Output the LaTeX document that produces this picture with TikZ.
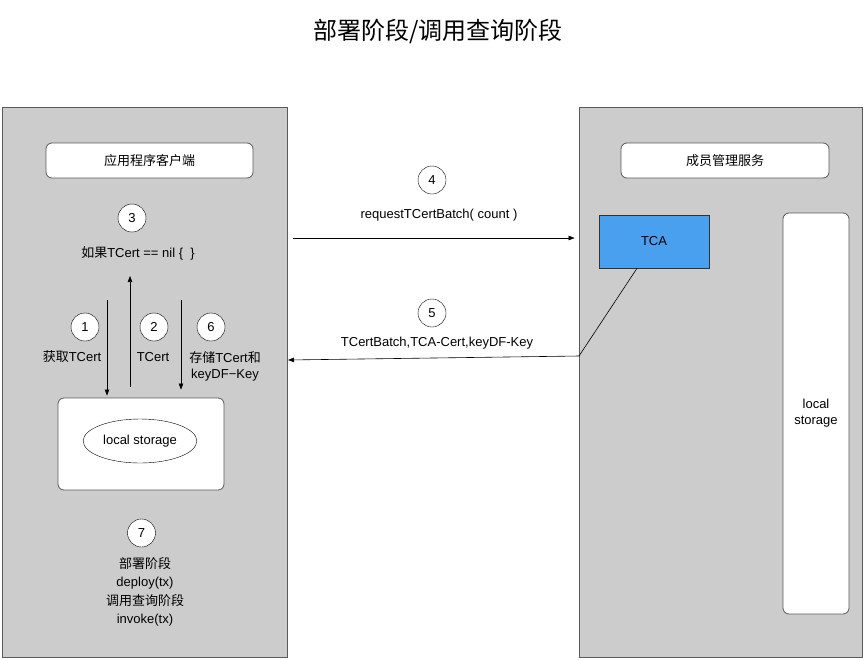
\documentclass[tikz,border=0pt]{standalone}
\usepackage{fontspec}
\setmainfont{Liberation Sans}
\newfontfamily\cjk{Noto Sans CJK SC}
\usetikzlibrary{arrows.meta,shapes.geometric}
\definecolor{panelgray}{RGB}{204,204,204}
\definecolor{linegray}{RGB}{90,90,90}
\definecolor{tcablue}{RGB}{73,160,239}
\tikzset{
  panel/.style={draw=linegray,fill=panelgray,line width=0.8pt,inner sep=0pt},
  whitebox/.style={draw=linegray,fill=white,rounded corners=6pt,line width=0.8pt},
  stepnum/.style={circle,draw,fill=white,minimum size=28pt,inner sep=0pt},
  flow/.style={-{Triangle[length=6pt,width=4.5pt]},line width=0.6pt},
}
\begin{document}
\begin{tikzpicture}[x=1pt,y=-1pt,font=\fontsize{13}{16}\selectfont]
  \useasboundingbox (0,0) rectangle (865,659);
  \node[font=\cjk\fontsize{24}{27}\selectfont] (title) at (438,31) {部署阶段/调用查询阶段};
  % two sides
  \node[panel,minimum width=285pt,minimum height=550pt] (client) at (144.5,382) {};
  \node[panel,minimum width=283pt,minimum height=550pt] (member) at (720.5,382) {};
  % client side
  \node[whitebox,minimum width=207pt,minimum height=35pt] (app) at (149.5,160.5) {\cjk 应用程序客户端};
  \node[stepnum] (s3) at (132,218) {3};
  \node (cond) at (138,253) {{\cjk 如果}TCert == nil \{\ \ \}};
  \node[stepnum] (s1) at (85,327) {1};
  \node[stepnum] (s2) at (154,327) {2};
  \node[stepnum] (s6) at (211,327) {6};
  \node (l1) at (72,357) {{\cjk 获取}TCert};
  \node (l2) at (153,357) {TCert};
  \node[align=center] (l6) at (225,366.5) {{\cjk 存储}TCert{\cjk 和}\\keyDF−Key};
  \node[whitebox,minimum width=166pt,minimum height=92pt] (store) at (141,444) {};
  \node[draw,fill=white,ellipse,minimum width=112pt,minimum height=44pt] (local) at (140,441) {local storage};
  \node[stepnum] (s7) at (141.5,533) {7};
  \node[align=center,font=\fontsize{13}{18.5}\selectfont] (stage) at (145,592)
    {{\cjk 部署阶段}\\deploy(tx)\\{\cjk 调用查询阶段}\\invoke(tx)};
  \coordinate (get) at (107,300);
  \coordinate (back) at (130,276);
  \coordinate (save) at (181,300);
  \draw[flow,shorten >=2pt] (get) -- (get |- store.north);
  \draw[flow] ([yshift=11pt]back |- store.north) -- (back);
  \draw[flow,shorten >=8pt] (save) -- (save |- store.north);
  % messages
  \node[stepnum] (s4) at (432,180) {4};
  \node (req) at (439,215) {requestTCertBatch( count )};
  \node[stepnum] (s5) at (432,313) {5};
  \node (resp) at (437,343) {TCertBatch,TCA-Cert,keyDF-Key};
  % member side
  \node[whitebox,minimum width=208pt,minimum height=35pt] (msvc) at (725,160.5) {\cjk 成员管理服务};
  \node[draw=black!80,fill=tcablue,minimum width=110pt,minimum height=53pt,line width=0.6pt] (tca) at (654,241.5) {TCA};
  \node[whitebox,minimum width=66pt,minimum height=401pt,align=center] (tstore) at (816,413.5) {local\\storage};
  \coordinate (reqstart) at (293,238);
  \coordinate (bend) at (579,356);
  \coordinate (ret) at (288,360);
  \draw[flow,shorten >=4pt] (reqstart) -- (reqstart -| member.west);
  \draw[flow] ([xshift=-17pt]tca.south) -- (bend) -- (ret);
\end{tikzpicture}
\end{document}
